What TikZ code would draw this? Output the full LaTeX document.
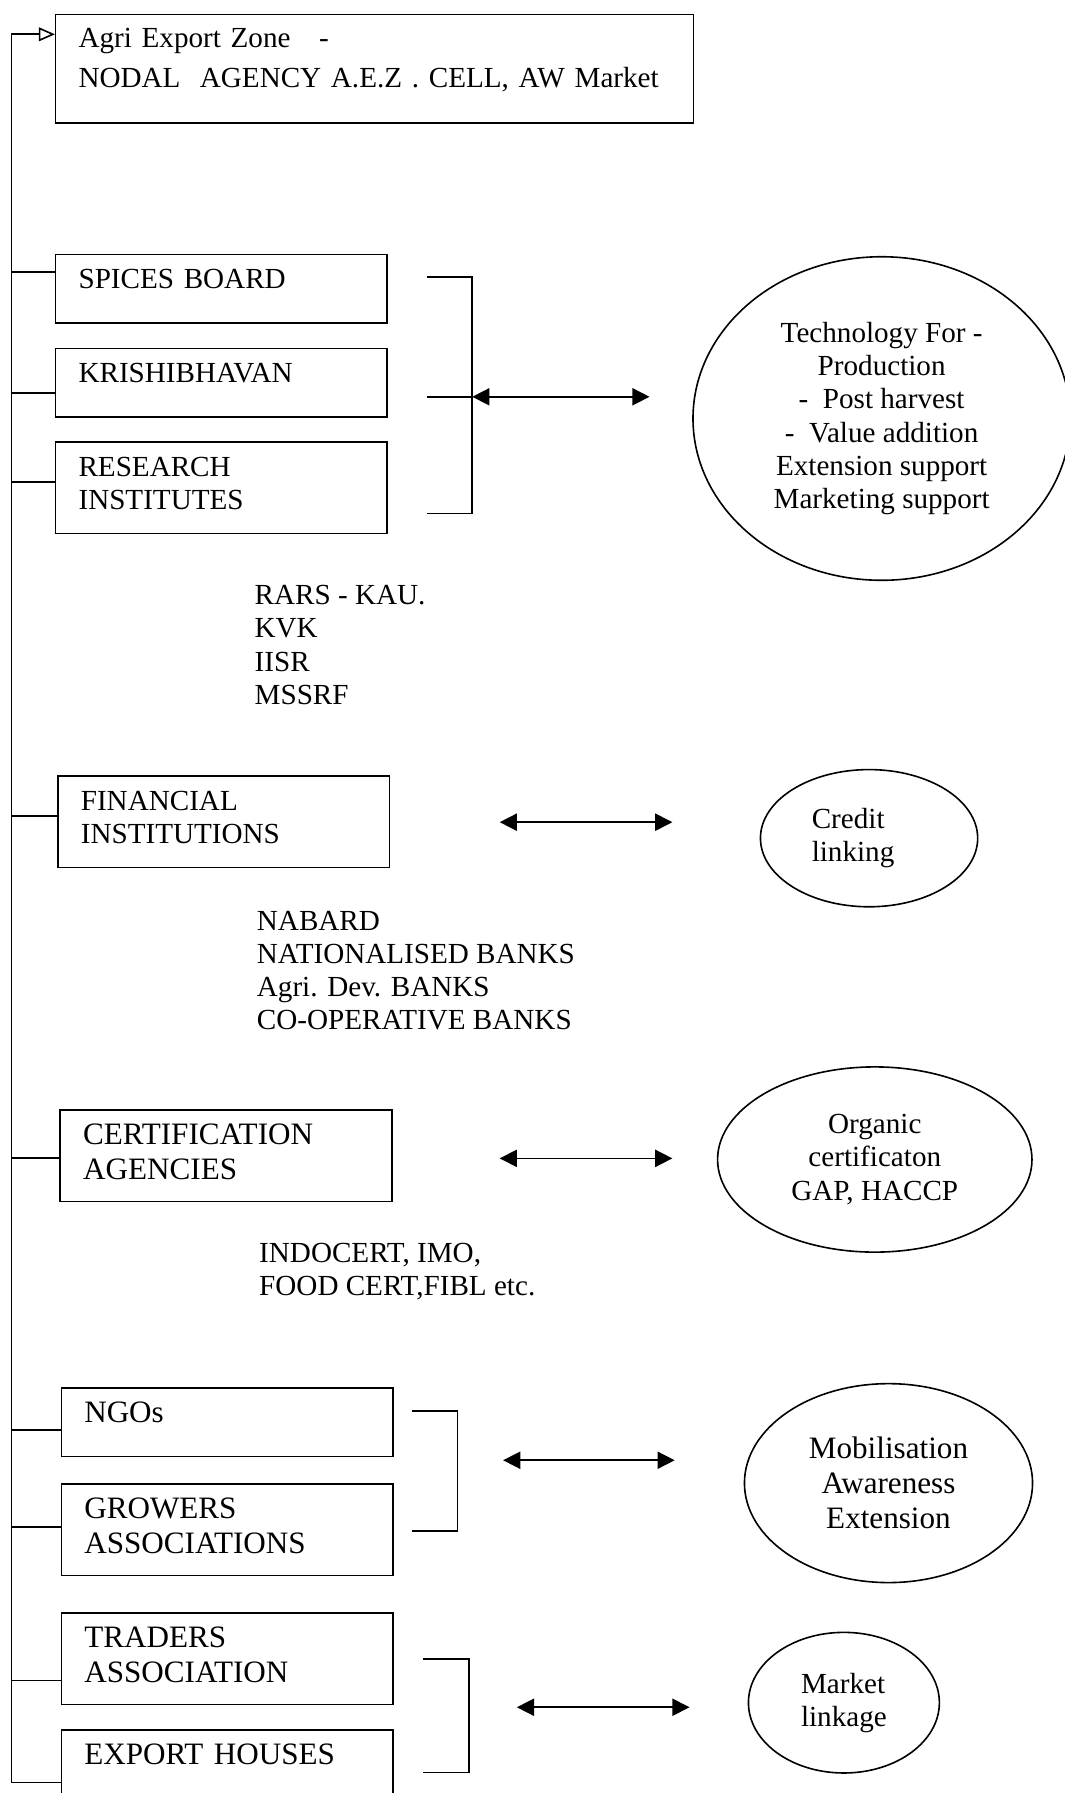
\documentclass[tikz,border=0pt]{standalone}
\usepackage{fontspec}
\setmainfont{Liberation Serif}
\usetikzlibrary{positioning, arrows.meta, shapes.geometric}

\newcommand{\fsa}{\fontsize{14.5}{16.5}\selectfont}
\newcommand{\fsb}{\fontsize{15.5}{17.5}\selectfont}

\begin{document}
\begin{tikzpicture}[x=0.02cm, y=-0.02cm, line width=0.8pt,
    box/.style={draw, anchor=north west, text width=5cm, align=left, inner xsep=0.4cm,
        inner ysep=0.1cm, text height=0.5cm, text depth=0.5cm, font=\fsa},
    box2/.style={box, text depth=0.9cm},
    oval/.style={draw, ellipse, inner sep=0pt, align=center, font=\fsa},
    lst/.style={anchor=west, align=left, inner sep=0pt, font=\fsa},
    twoway/.style={<->, >={Triangle[length=0.3cm, width=0.3cm]}}]
    \useasboundingbox (0,0) rectangle (931,1568);

    % nodal agency and the feeding line
    \node[box, text width=10.36cm, text height=0.48cm, text depth=1.22cm] (aez) at (48,12)
        {Agri Export Zone\hspace{0.5cm}-\\[0.12cm]NODAL\ \ AGENCY A.E.Z . CELL, AW Market};
    \coordinate (spinetop) at (10,30);
    \coordinate (spinebot) at (10,1558);
    \draw[-{Triangle[open, length=0.28cm, width=0.24cm]}] (spinebot) -- (spinetop) -- (aez.west |- spinetop);

    % agencies
    \node[box] (spices) at (48,222) {SPICES BOARD};
    \node[box] (krishi) at (48,304) {KRISHIBHAVAN};
    \node[box2] (research) at (48,386) {RESEARCH\\INSTITUTES};
    \node[box2] (financial) at (50,678) {FINANCIAL\\INSTITUTIONS};
    \node[box2, font=\fsb] (cert) at (52,970) {CERTIFICATION\\AGENCIES};
    \node[box, font=\fsb] (ngo) at (53,1213) {NGOs};
    \node[box2, font=\fsb] (growers) at (53,1297) {GROWERS\\ASSOCIATIONS};
    \node[box2, font=\fsb] (traders) at (53,1410) {TRADERS\\ASSOCIATION};
    \node[box, font=\fsb] (export) at (53,1512) {EXPORT HOUSES};
    \foreach \b/\dy in {spices/0.30, krishi/-0.18, research/0.10, financial/0.10, cert/-0.04,
                        ngo/-0.14, growers/0.05, traders/-0.38, export/-0.32}
        \draw ([yshift=\dy cm]\b.west) -- ([yshift=\dy cm]\b.west -| spinetop);

    % members
    \node[lst] (rars) at (222,564) {RARS - KAU.\\KVK\\IISR\\MSSRF};
    \node[lst] (banks) at (224,849) {NABARD\\NATIONALISED BANKS\\Agri. Dev. BANKS\\CO-OPERATIVE BANKS};
    \node[lst] (agencies) at (226,1112) {INDOCERT, IMO,\\FOOD CERT,FIBL etc.};

    % roles
    \node[oval, minimum width=6.6cm, minimum height=5.66cm] (tech) at (771,366)
        {Technology For -\\Production\\-\ \ Post harvest\\-\ \ Value addition\\Extension support\\Marketing support};
    \node[oval, minimum width=3.8cm, minimum height=2.4cm, align=left] (credit) at (760,733)
        {Credit\\linking\hspace{0.56cm}\mbox{}};
    \node[oval, minimum width=5.5cm, minimum height=3.24cm] (organic) at (765,1014) {Organic\\certificaton\\GAP, HACCP};
    \node[oval, minimum width=5.04cm, minimum height=3.48cm, font=\fsb] (mobil) at (777,1297) {Mobilisation\\Awareness\\Extension};
    \node[oval, minimum width=3.34cm, minimum height=2.46cm, align=left] (market) at (738,1489) {Market\\linkage};

    % brackets and links
    \foreach \n/\x/\ya/\yb in {br1/373/242/449, br2/360/1234/1339, br3/370/1451/1550} {
        \coordinate (\n) at (\x,\ya);
        \coordinate (\n bot) at (\x,\yb);
        \draw (\n) -- ++(40,0) |- (\n bot);
    }
    \coordinate (br1mid) at (373,347);
    \coordinate (t1) at (568,347);
    \draw (br1mid) -- ++(40,0) coordinate (j1);
    \draw[twoway] (j1) -- (t1);
    \foreach \n/\xa/\xb/\y in {a2/437/588/719, a3/437/588/1013, a4/440/590/1277, a5/452/603/1493} {
        \coordinate (\n l) at (\xa,\y);
        \coordinate (\n r) at (\xb,\y);
        \draw[twoway] (\n l) -- (\n r);
    }
\end{tikzpicture}
\end{document}
